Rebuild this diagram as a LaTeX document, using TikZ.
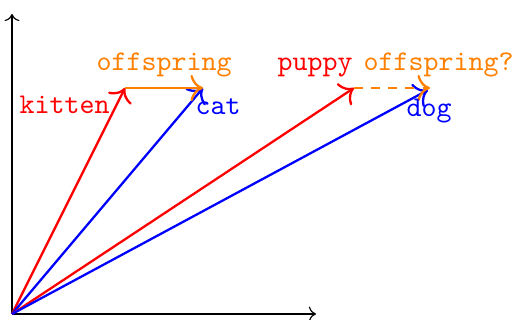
\documentclass[tikz,border=0pt]{standalone}
\usetikzlibrary{arrows.meta}
\begin{document}
\begin{tikzpicture}[x=0.35pt,y=-0.35pt,
  vec/.style={thick,-{To[scale=1.3]}},
  lbl/.style={inner sep=0pt,anchor=base west,font=\ttfamily}]
\useasboundingbox (0,0) rectangle (516,320);
\coordinate (O) at (12,314);
\coordinate (X) at (316,314);
\coordinate (Y) at (12,14);
\coordinate (K) at (125,88);
\coordinate (C) at (203,88);
\coordinate (P) at (354,88);
\coordinate (D) at (428,90);
\coordinate (Q) at (430,88);
% axes
\draw[->] (O) -- (X);
\draw[->] (O) -- (Y);
% vectors
\draw[vec,red] (O) -- (K);
\draw[vec,blue] (O) -- (C);
\draw[vec,red] (O) -- (P);
\draw[vec,blue] (O) -- (D);
\draw[vec,orange] (K) -- (C);
\draw[vec,orange,dashed] (P) -- (Q);
% labels
\node[lbl,red] (lk) at (19,114) {kitten};
\node[lbl,orange] (lo) at (96,71) {offspring};
\node[lbl,blue] (lc) at (195,115) {cat};
\node[lbl,red] (lp) at (277,71) {puppy};
\node[lbl,orange] (lq) at (363,71) {offspring?};
\node[lbl,blue] (ld) at (406,117) {dog};
\end{tikzpicture}
\end{document}
